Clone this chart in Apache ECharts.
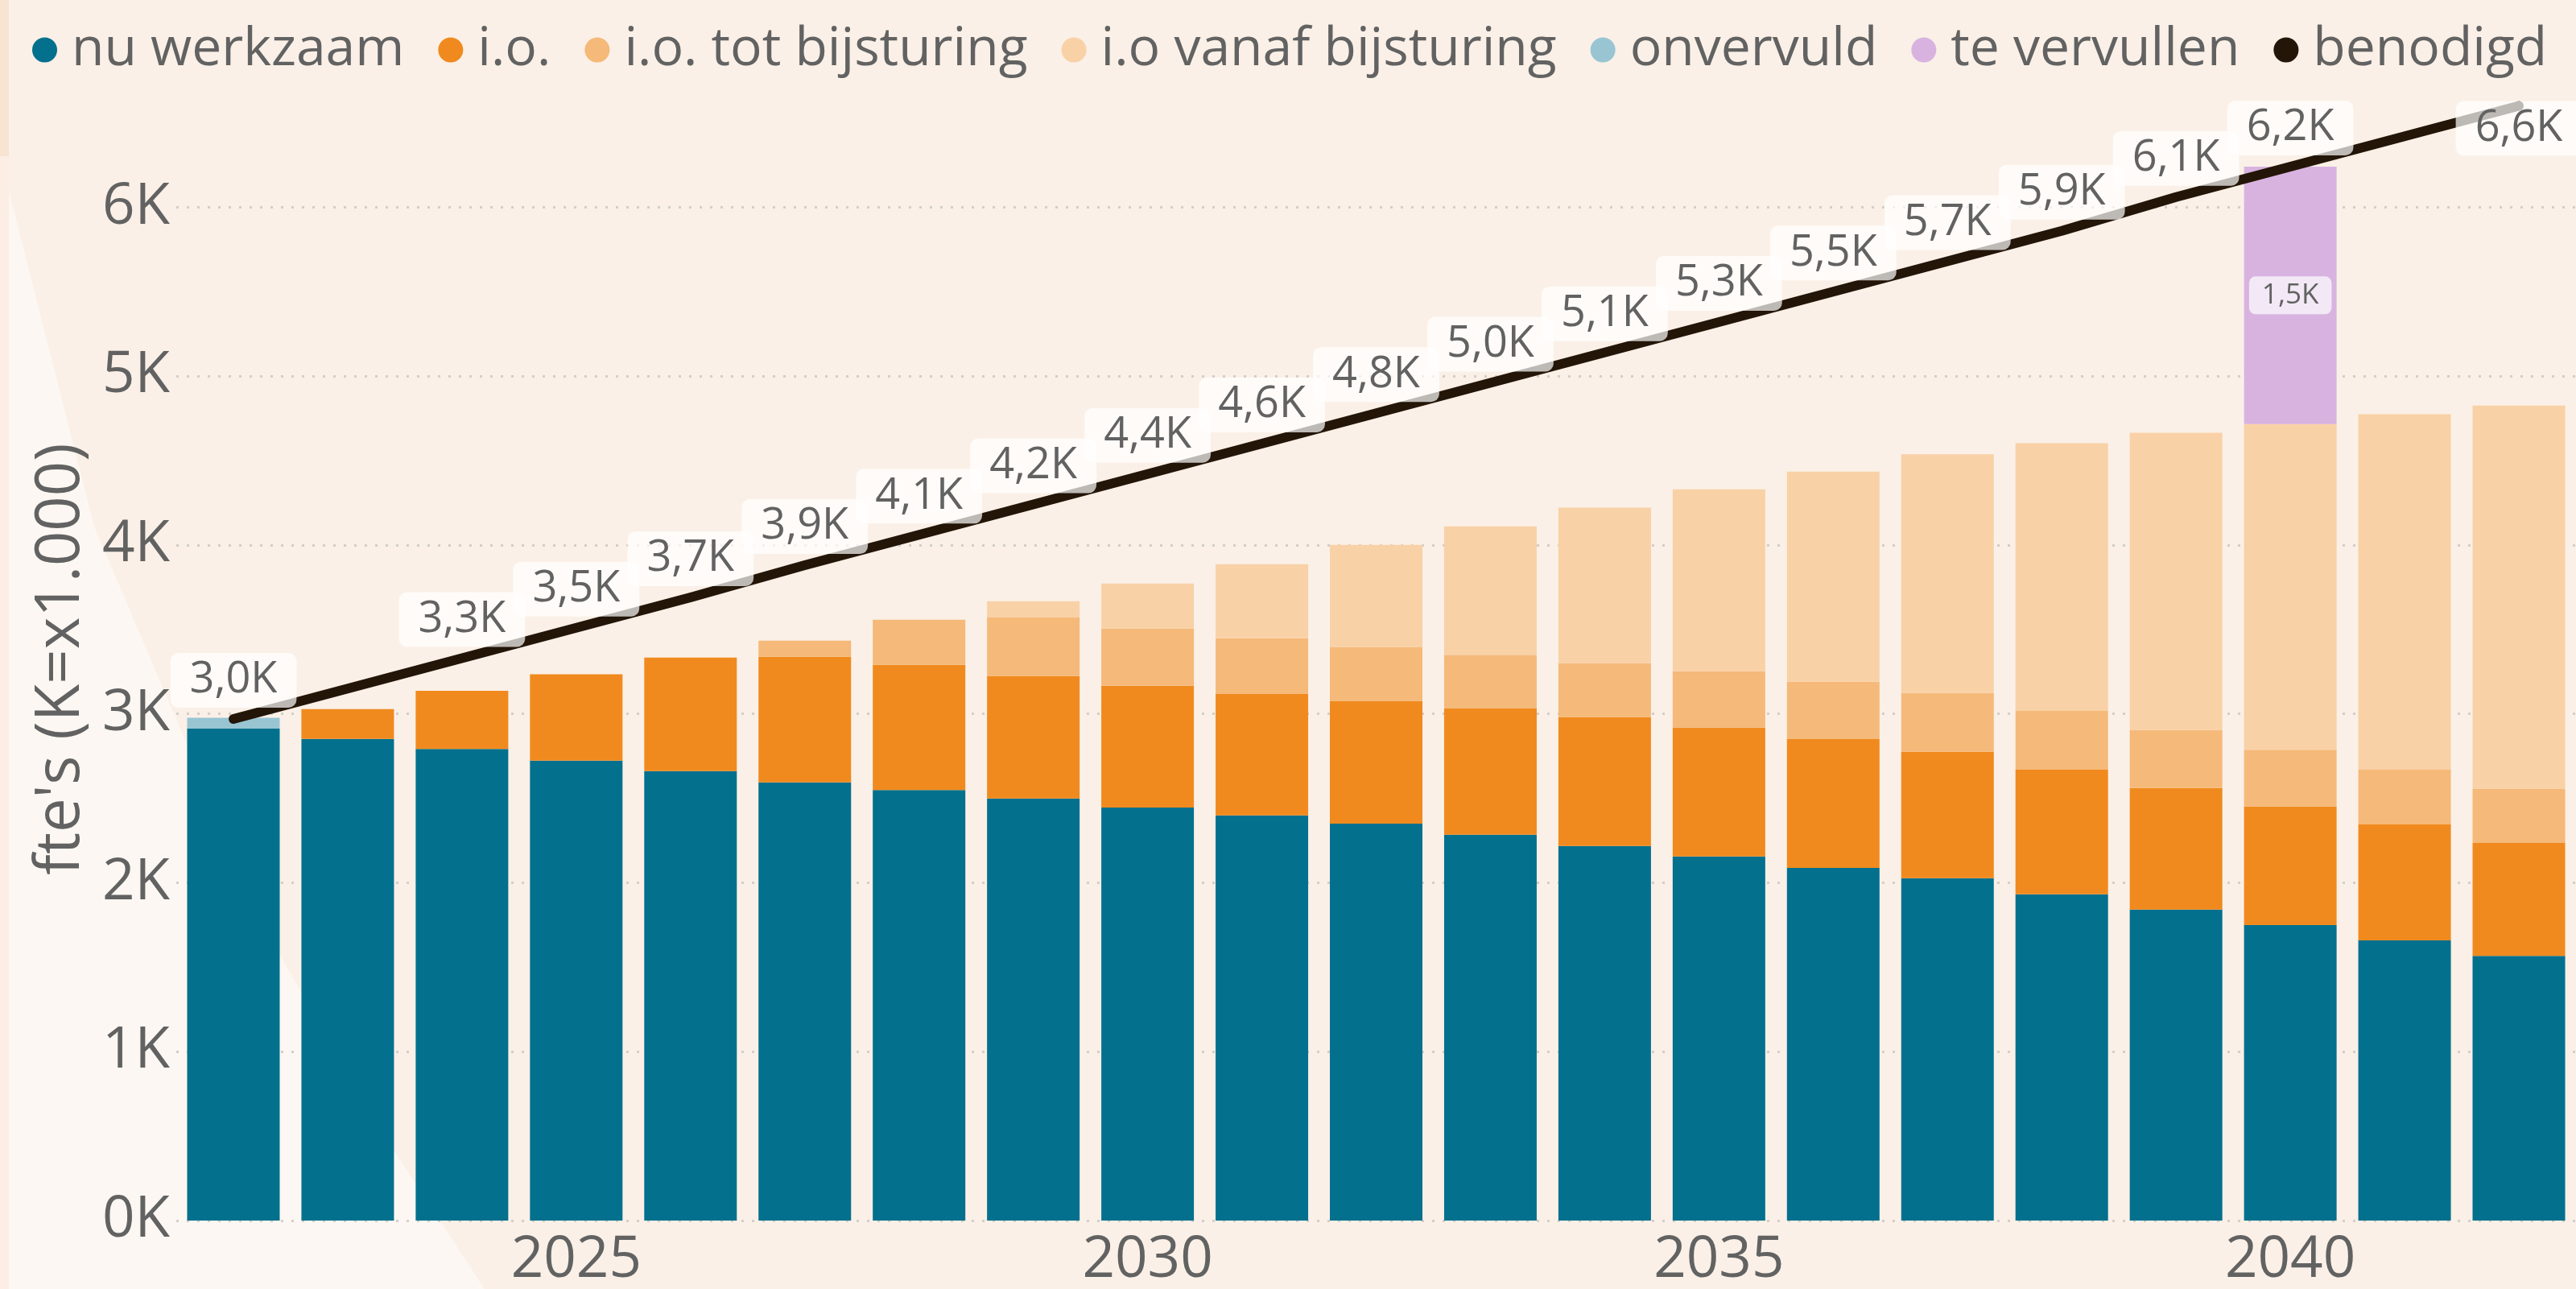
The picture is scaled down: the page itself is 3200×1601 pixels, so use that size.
<!DOCTYPE html>
<html>
<head>
<meta charset="utf-8">
<script src="https://cdn.jsdelivr.net/npm/echarts@6/dist/echarts.min.js"></script>
<style>
html,body{margin:0;padding:0;background:#FAF0E7;}
#chart{width:3200px;height:1601px;}
</style>
</head>
<body>
<div id="chart"></div>
<script>
// ---- data (fte) ----
const years = ['2022','2023','2024','2025','2026','2027','2028','2029','2030','2031','2032','2033','2034','2035','2036','2037','2038','2039','2040','2041','2042'];
const nuWerkzaam   = [2913,2852,2792,2723,2661,2594,2549,2499,2446,2399,2350,2285,2218,2156,2088,2027,1932,1841,1750,1659,1567];
const io           = [0,176,345,511,672,744,742,726,720,721,727,749,763,763,763,749,738,720,701,686,669];
const ioTot        = [0,0,0,0,0,95,266,346,339,328,319,313,319,333,339,347,347,343,336,325,321];
const ioVanaf      = [0,0,0,0,0,0,0,96,267,438,605,763,921,1078,1245,1414,1585,1760,1929,2104,2268];
const onvervuld    = [64,0,0,0,0,0,0,0,0,0,0,0,0,0,0,0,0,0,0,0,0];
const teVervullen  = [0,0,0,0,0,0,0,0,0,0,0,0,0,0,0,0,0,0,1524,0,0];
const benodigd     = [2970,3150,3330,3510,3690,3880,4060,4240,4420,4600,4780,4960,5140,5320,5500,5680,5860,6060,6240,6420,6600];
const benodigdHiddenLabels = ['2023','2041'];
const yTicks = [0,1000,2000,3000,4000,5000,6000];

const FONT = '"Open Sans", "Noto Sans", sans-serif';
const GREY = '#626262';
const fmtK = v => (v/1000).toFixed(1).replace('.', ',') + 'K';

const chart = echarts.init(document.getElementById('chart'), null, {renderer:'canvas'});

function barSeries(name, data, color, extra) {
  return Object.assign({
    name, type:'bar', stack:'total', data, barWidth:115,
    itemStyle:{color}, emphasis:{disabled:true}
  }, extra || {});
}

const teData = teVervullen.map(v => v > 0 ? {value:v, label:{show:true}} : {value:v, label:{show:false}});
const benData = benodigd.map((v,i) => {
  const item = {value:v};
  if (benodigdHiddenLabels.includes(years[i])) item.label = {show:false};
  if (i === benodigd.length - 1) item.label = {show:true, position:'bottom', distance:-7};
  return item;
});

const option = {
  backgroundColor:'#FAF0E7',
  animation:false,
  textStyle:{fontFamily:FONT},
  graphic:{elements:[
    {type:'polygon', z:-10, silent:true,
     shape:{points:[[0,194],[117,654],[230,919],[347,1185],[490,1430],[602,1601],[0,1601]]},
     style:{fill:'#FCF7F2'}},
    {type:'rect', z:-9, silent:true, shape:{x:0,y:0,width:11,height:194}, style:{fill:'#F8E4D2'}},
    {type:'rect', z:-9, silent:true, shape:{x:0,y:194,width:11,height:1407}, style:{fill:'#FCEEE4'}}
  ]},
  legend:{
    left:35, top:17, icon:'circle', itemWidth:31, itemHeight:31, itemGap:42,
    textStyle:{fontFamily:FONT, fontSize:66, color:GREY, lineHeight:80, padding:[0,0,0,13]},
    data:['nu werkzaam','i.o.','i.o. tot bijsturing','i.o vanaf bijsturing','onvervuld','te vervullen','benodigd']
  },
  grid:{left:219, top:121, width:3005, bottom:85, containLabel:false},
  xAxis:{
    type:'category', data:years, boundaryGap:true,
    axisLine:{show:false}, axisTick:{show:false},
    axisLabel:{fontFamily:FONT, fontSize:71, color:GREY, margin:14,
      interval:(idx, val) => Number(val) % 5 === 0}
  },
  yAxis:{
    type:'value', min:0, max:6650, interval:1000,
    name:"fte's (K=x1.000)", nameLocation:'middle', nameGap:105, nameRotate:90,
    nameTextStyle:{fontFamily:FONT, fontSize:76, color:GREY},
    axisLine:{show:false}, axisTick:{show:false},
    axisLabel:{fontFamily:FONT, fontSize:71, color:GREY, margin:8,
      formatter: v => yTicks.includes(v) ? (v/1000) + 'K' : ''},
    splitLine:{show:true, showMaxLine:false, lineStyle:{color:'#D3CEC8', width:3, type:[3,10]}}
  },
  series:[
    barSeries('nu werkzaam', nuWerkzaam, '#03708E'),
    barSeries('i.o.', io, '#F08A1E'),
    barSeries('i.o. tot bijsturing', ioTot, '#F5B979'),
    barSeries('i.o vanaf bijsturing', ioVanaf, '#F9D1A6'),
    barSeries('onvervuld', onvervuld, '#99C5D3'),
    barSeries('te vervullen', teData, '#D8B3E0', {
      label:{show:false, position:'inside', formatter:p => fmtK(p.value),
        fontFamily:FONT, fontSize:35, color:GREY,
        backgroundColor:'rgba(255,255,255,0.7)', borderRadius:8, padding:[6,16]}
    }),
    {
      name:'benodigd', type:'line', data:benData, z:5,
      symbol:'circle', symbolSize:2, showSymbol:true,
      itemStyle:{color:'#231507'},
      lineStyle:{color:'#231507', width:12, cap:'round', join:'round'},
      emphasis:{disabled:true},
      label:{show:true, position:'top', distance:13, formatter:p => fmtK(p.value),
        fontFamily:FONT, fontSize:54, color:GREY, lineHeight:56,
        backgroundColor:'rgba(255,255,255,0.7)', borderRadius:10, padding:[6,24]},
      labelLayout:{hideOverlap:false}
    }
  ]
};
chart.setOption(option);
</script>
</body>
</html>
